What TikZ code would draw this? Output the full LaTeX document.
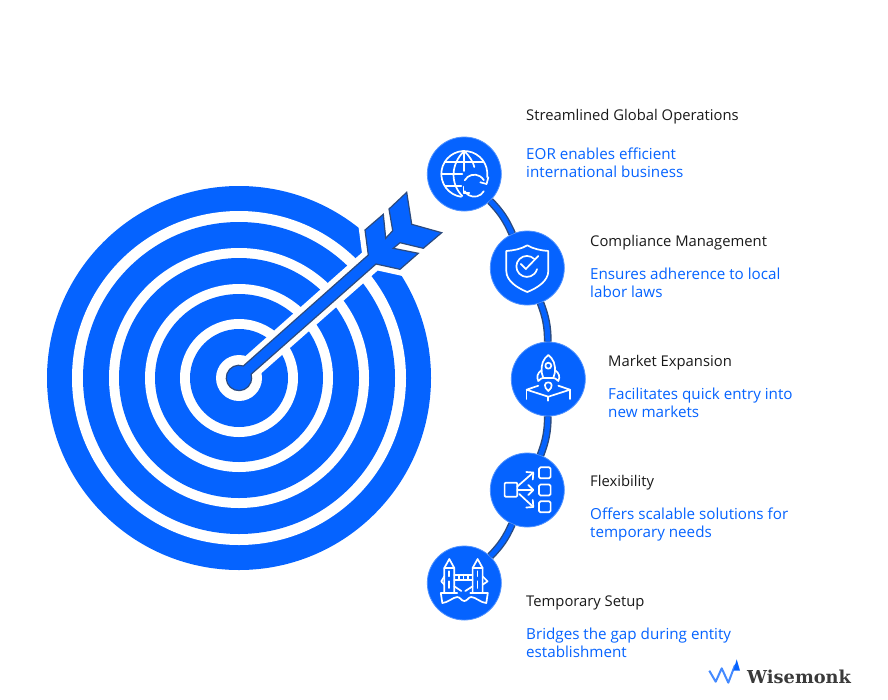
\documentclass[tikz,border=0pt]{standalone}
\usepackage{fontspec}
\setmainfont{Open Sans}
\newfontfamily\logofont{DejaVu Serif}
\definecolor{wmblue}{HTML}{0563FF}
\definecolor{wmdark}{HTML}{2B4A7E}
\definecolor{wmlogo}{HTML}{3A3A3A}
\tikzset{
  stepdot/.style={circle, fill=wmblue, draw=wmblue!70!white, line width=.8pt, minimum size=74pt, inner sep=0pt},
  link/.style={draw=wmdark, line width=1.4pt, double=wmblue, double distance=5pt},
  iconline/.style={white, line width=1.7pt, line join=round, line cap=round},
  headtext/.style={anchor=west, inner sep=0pt, font=\fontsize{14.8}{18}\selectfont, text=black!90},
  bodytext/.style={anchor=north west, inner sep=0pt, align=left, font=\fontsize{15.2}{18}\selectfont, text=wmblue},
}
\begin{document}
\begin{tikzpicture}
      [x=1pt, y=-1pt]
      \useasboundingbox (0,0) rectangle (888,699);
      % target
      \coordinate (hub) at (239,378);
      \fill[wmblue] (hub) circle (192);
      \foreach \a/\b in {167/156, 130/120, 94/84, 59/49}
        {
        \fill[white] (hub) circle (\a);
        \fill[wmblue] (hub) circle (\b);
        }
      \fill[white] (hub) circle (23);
      % arrow
      \def\arrowpath{(406.7,192.3) -- (389,209) -- (392.7,230.7) -- (385.7,238.3) -- (383.3,214.3) -- (365,230) -- (368.3,255) -- (243.3,366) arc (-70:-377:12.7) -- (376,264) -- (400,269.3) -- (418.3,253.3) -- (393.3,248.3) -- (400,242.7) -- (423.3,248.3) -- (441.7,232.7) -- (411.7,224.3) -- cycle}
      \draw[white, line width=12pt, line join=miter] \arrowpath;
      \draw[fill=wmblue, draw=wmdark, line width=1.2pt, line join=miter] \arrowpath;
      % steps
      \node[stepdot] (globe) at (464.3,174) {};
      \node[stepdot] (shield) at (527.3,268) {};
      \node[stepdot] (rocket) at (548.3,379) {};
      \node[stepdot] (flow) at (527.3,490) {};
      \node[stepdot] (bridge) at (464.3,583) {};
      \draw[link] (globe) to[bend left=10] (shield);
      \draw[link] (shield) to[bend left=10] (rocket);
      \draw[link] (rocket) to[bend left=10] (flow);
      \draw[link] (flow) to[bend left=10] (bridge);
      % globe icon
      \begin{scope}[shift={(globe)}, iconline]
        \draw (22.8,3.2) arc (8:-262:23);
        \draw (-2,22) .. controls (-14,10) and (-14,-10) .. (0,-23) .. controls (5,-18) and (9,-12) .. (10,-7);
        \draw (-19,-11.7) -- (19,-11.7);
        \draw (-23,0) -- (-2,0);
        \draw (-19,11.7) -- (-3,11.7);
        \draw (0,-23) -- (0,-3);
        \draw (0.5,6.2) arc (-150:-30:11);
        \draw (24,3.3) -- (22.3,10) -- (16,8.3);
        \draw (19.5,17.2) arc (30:150:11);
        \draw (-0.7,12.7) -- (-0.7,19.3) -- (5,19.3);
      \end{scope}
      % shield icon
      \begin{scope}[shift={(shield)}, iconline]
        \draw (0,-22.7) .. controls (6,-19) and (14,-17.5) .. (21,-17) -- (21,3) .. controls (21,13) and (10,20) .. (0,24) .. controls (-10,20) and (-21,13) .. (-21,3) -- (-21,-17) .. controls (-14,-17.5) and (-6,-19) .. cycle;
        \draw (7,-9) arc (-45:-345:10.5);
        \draw (-6.5,-4) -- (-1.5,1) -- (11,-12);
      \end{scope}
      % rocket icon
      \begin{scope}[shift={(rocket)}, iconline]
        \draw (0,-24) .. controls (5,-20) and (7.5,-15) .. (6.5,-6) -- (5,-1) -- (-5,-1) -- (-6.5,-6) .. controls (-7.5,-15) and (-5,-20) .. cycle;
        \draw (0,-13.3) circle (3);
        \draw (-6.5,-9) .. controls (-11,-6) and (-12,-2) .. (-10,2) .. controls (-8,-0.5) and (-6,-1) .. (-5,-1);
        \draw (6.5,-9) .. controls (11,-6) and (12,-2) .. (10,2) .. controls (8,-0.5) and (6,-1) .. (5,-1);
        \draw (0,3.3) .. controls (4,3.3) and (5,8) .. (0,12) .. controls (-5,8) and (-4,3.3) .. cycle;
        \draw (-10,6.7) -- (-21.7,10.7) -- (0,17.7) -- (21.7,10.7) -- (10,6.7);
        \draw (-21.7,10.7) -- (-21.7,20);
        \draw (21.7,10.7) -- (21.7,20);
        \draw (0,17.7) -- (0,21.7);
      \end{scope}
      % flow icon
      \begin{scope}[shift={(flow)}, iconline]
        \draw[rounded corners=1pt] (-22.7,-7.3) rectangle (-10,6.7);
        \draw (-10,-3.5) -- (6,-17.5);
        \draw (-1,-18) -- (6,-17.5) -- (5.5,-10.5);
        \draw (-10,0) -- (6,0);
        \draw (1,-5) -- (6,0) -- (1,5);
        \draw (-8,4) -- (6,17);
        \draw (-1,17.5) -- (6,17) -- (5.5,10);
        \foreach \y in {-22.7,-5.5,11.3}
          \draw[rounded corners=1.5pt] (11.7,\y) rectangle (23.3,\y+11);
      \end{scope}
      % bridge icon
      \begin{scope}[shift={(bridge)}, iconline]
        \foreach \x in {-15,13.3}
          {
          \draw (\x-5,-15) -- (\x,-24) -- (\x+5,-15) -- (\x+5,10) -- (\x-5,10) -- cycle;
          \draw (\x-5,-15) -- (\x+5,-15);
          \draw (\x,-11.7) -- (\x,-6.7);
          \draw (\x,-1.7) -- (\x,5);
          }
        \draw (-10,-8.3) -- (8.3,-8.3);
        \draw (-10,-3.3) -- (8.3,-3.3);
        \foreach \x in {-5,-0.8,3.4}
          \draw (\x,-8.3) -- (\x,-3.3);
        \draw (-10,3.3) -- (-3,8);
        \draw (8.3,3.3) -- (1,8);
        \draw (-20,-6.7) -- (-23,-1.7) -- (-20,1.7);
        \draw (18.3,-6.7) -- (23.3,-1.7) -- (18.3,1.7);
        \draw (-7,10) -- (-23.5,10) -- (-22,20) .. controls (-17,20) and (-11,14) .. (-7,14) .. controls (-4,14) and (-3,18) .. (0,18) .. controls (3,18) and (4,14) .. (7,14) .. controls (11,14) and (17,20) .. (22,20) -- (23.5,10) -- (6,10);
      \end{scope}
      % labels
      \node[headtext] (globehead) at (526,117) {Streamlined Global Operations};
      \node[bodytext] (globebody) at (526,148) {EOR enables efficient\\international business};
      \node[headtext] (shieldhead) at (590,243) {Compliance Management};
      \node[bodytext] (shieldbody) at (590,268) {Ensures adherence to local\\labor laws};
      \node[headtext] (rockethead) at (608,363) {Market Expansion};
      \node[bodytext] (rocketbody) at (608,388) {Facilitates quick entry into\\new markets};
      \node[headtext] (flowhead) at (590,483) {Flexibility};
      \node[bodytext] (flowbody) at (590,508) {Offers scalable solutions for\\temporary needs};
      \node[headtext] (bridgehead) at (526,603) {Temporary Setup};
      \node[bodytext] (bridgebody) at (526,628) {Bridges the gap during entity\\establishment};
      % logo
      \node[anchor=west, inner sep=0pt, text=wmlogo, font=\logofont\bfseries\fontsize{17.8}{18}\selectfont] (wise) at (747,677) {Wisemonk};
      \draw[wmblue!75!white, line width=2pt, line join=round] (709.3,670.7) -- (715.7,681.7) -- (721.7,668.3) -- (728.3,682.7) -- (735,665);
      \fill[wmblue] (736.7,659.3) -- (733.3,670.7) -- (740,670.7) -- cycle;
\end{tikzpicture}
\end{document}
